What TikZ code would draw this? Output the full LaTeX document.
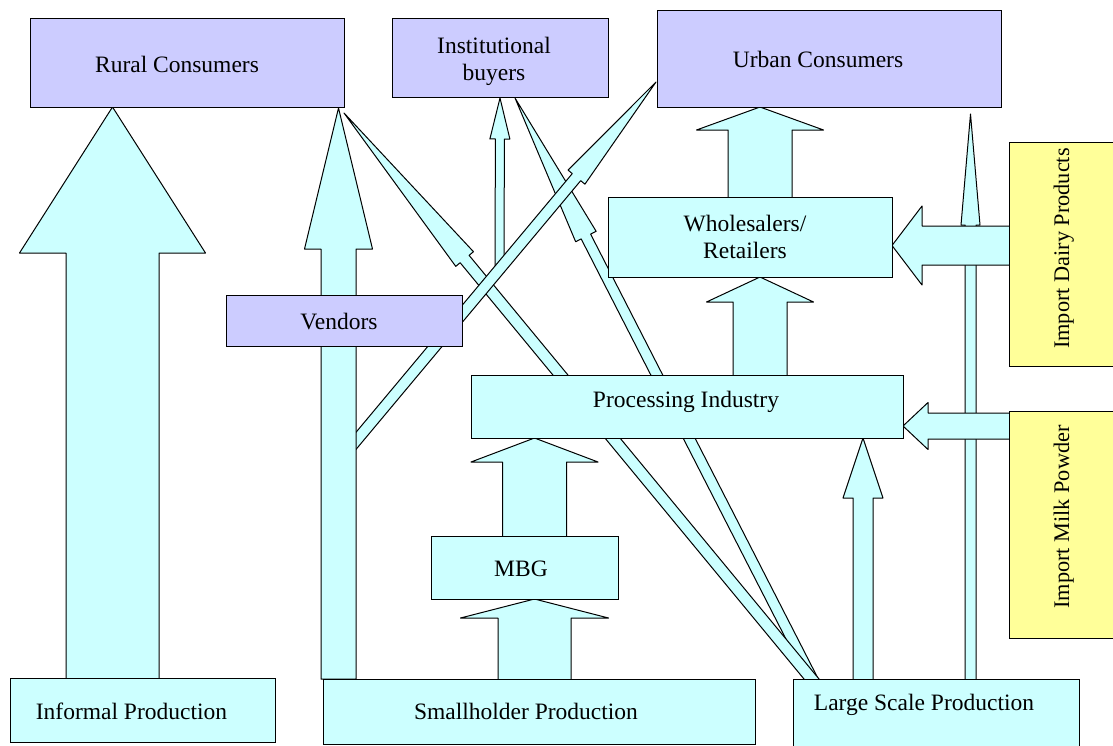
\documentclass[tikz,border=0pt]{standalone}
\usepackage{fontspec}
\setmainfont{Liberation Serif}
\usetikzlibrary{calc}
\definecolor{lav}{HTML}{CCCCFF}
\definecolor{cyanf}{HTML}{CCFFFF}
\definecolor{yel}{HTML}{FFFF99}
\tikzset{
  flow/.style={draw=black, fill=cyanf, line width=1pt, line join=round},
  box/.style={draw=black, line width=1pt, rectangle, inner sep=0pt},
  cbox/.style={box, fill=cyanf},
  pbox/.style={box, fill=lav},
  ybox/.style={box, fill=yel},
  txt/.style={font=\fontsize{23.5pt}{27pt}\selectfont, inner sep=0pt, text height=16pt, text depth=5pt},
  rtxt/.style={font=\fontsize{22.3pt}{27pt}\selectfont, inner sep=0pt, text height=15pt, text depth=5pt, rotate=90},
  mtxt/.style={font=\fontsize{23.5pt}{27pt}\selectfont, inner sep=0pt, align=center}
}
% #1 name, #2 tail, #3 tip, #4 shaft half width, #5 head half width, #6 head length
\newcommand{\blockarrow}[6]{%
  \coordinate (#1t) at #2;
  \coordinate (#1p) at #3;
  \coordinate (#1b) at ($(#1p)!#6!(#1t)$);
  \draw[flow] ($(#1t)!#4!90:(#1p)$) -- ($(#1b)!#4!90:(#1p)$) -- ($(#1b)!#5!90:(#1p)$)
     -- (#1p) -- ($(#1b)!#5!-90:(#1p)$) -- ($(#1b)!#4!-90:(#1p)$) -- ($(#1t)!#4!-90:(#1p)$) -- cycle;
}
\begin{document}
\begin{tikzpicture}[x=1pt, y=-1pt]
\useasboundingbox (0,0) rectangle (1113,745);
\clip (0,0) rectangle (1113,745);
\fill[white] (0,0) rectangle (1113,745);

% thin diagonal flows from Large Scale Production
\blockarrow{lsi}{(818,690)}{(515,98)}{5.3pt}{11.5pt}{155.6pt}
\blockarrow{lsr}{(820.6,690)}{(344,113)}{5.8pt}{11.5pt}{189.4pt}
% vertical flow to institutional buyers
\blockarrow{ins}{(499.5,272)}{(500,98)}{4.5pt}{10pt}{41pt}
% vendors to urban consumers
\blockarrow{vur}{(345,454)}{(656,82)}{5.5pt}{11pt}{124pt}
% smallholder to rural consumers
\blockarrow{sru}{(338.5,679)}{(338.5,108)}{17.5pt}{34pt}{141pt}
% informal to rural
\blockarrow{iru}{(112.5,690)}{(112.5,107)}{46.5pt}{93pt}{146pt}
% large scale to urban (tall)
\blockarrow{lsu}{(970.5,690)}{(970.5,114)}{5.5pt}{9.5pt}{111pt}
% imports
\blockarrow{idp}{(1015,245.5)}{(892,245.5)}{19.5pt}{39.5pt}{30pt}
\blockarrow{imp}{(1015,426)}{(903,426)}{13pt}{23.5pt}{25pt}
% vertical block arrows
\blockarrow{wur}{(760,200)}{(760,107)}{32pt}{63.5pt}{23pt}
\blockarrow{pwh}{(760,378)}{(760,277)}{27pt}{53.5pt}{25pt}
\blockarrow{mpr}{(534.5,539)}{(534.5,438)}{32pt}{63.5pt}{24pt}
\blockarrow{smb}{(534.5,682)}{(534.5,599)}{36.5pt}{74pt}{19pt}
\blockarrow{lpr}{(863,682)}{(863,438)}{10pt}{20pt}{60pt}

% boxes
\node[pbox, minimum width=314pt, minimum height=89pt] (rural) at (187,62.5) {};
\node[pbox, minimum width=216pt, minimum height=79pt] (inst) at (500,57.5) {};
\node[pbox, minimum width=344pt, minimum height=97pt] (urban) at (829,58.5) {};
\node[pbox, minimum width=236pt, minimum height=51pt] (vend) at (344,320.5) {};
\node[cbox, minimum width=284pt, minimum height=80pt] (whole) at (750,237) {};
\node[cbox, minimum width=432pt, minimum height=63pt] (proc) at (687,406.5) {};
\node[cbox, minimum width=187pt, minimum height=63pt] (mbg) at (524.5,567.5) {};
\node[cbox, minimum width=265pt, minimum height=64pt] (inf) at (142.5,710) {};
\node[cbox, minimum width=432pt, minimum height=65pt] (small) at (539,711.5) {};
\node[cbox, minimum width=286pt, minimum height=91pt] (large) at (936,724.5) {};
\node[ybox, minimum width=116pt, minimum height=224pt] (dairy) at (1067,254) {};
\node[ybox, minimum width=116pt, minimum height=227pt] (milk) at (1067,524.5) {};

% texts
\node[txt] (ruralT) at (177,67) {Rural Consumers};
\node[mtxt] (instT) at (494,61) {Institutional\\buyers};
\node[txt] (urbanT) at (818,62) {Urban Consumers};
\node[txt] (vendT) at (339,323.5) {Vendors};
\node[mtxt] (wholeT) at (745,237) {Wholesalers/\\Retailers};
\node[txt] (procT) at (686,401.5) {Processing Industry};
\node[txt] (mbgT) at (521,570.5) {MBG};
\node[txt] (smallT) at (526,713.5) {Smallholder Production};
\node[txt] (infT) at (131.5,713.5) {Informal Production};
\node[txt] (largeT) at (924,704.5) {Large Scale Production};
\node[rtxt] (dairyT) at (1064,248.5) {Import Dairy Products};
\node[rtxt] (milkT) at (1064,517) {Import Milk Powder};
\end{tikzpicture}
\end{document}
